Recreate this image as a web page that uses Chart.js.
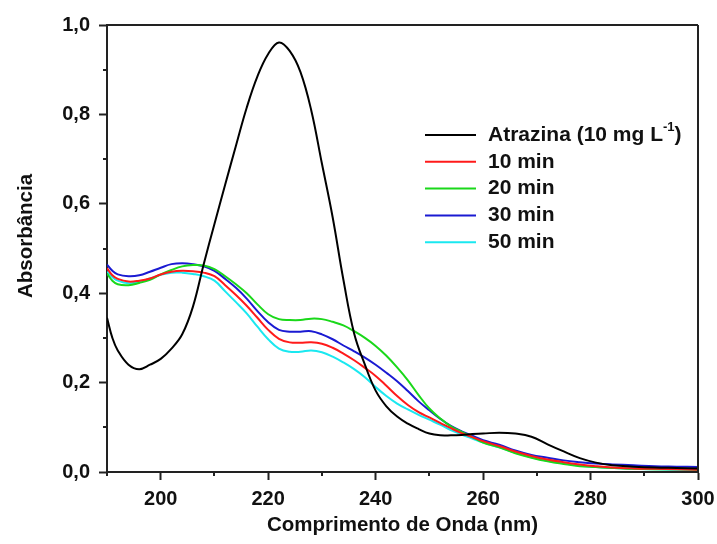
<!DOCTYPE html>
<html lang="pt">
<head>
<meta charset="UTF-8">
<title>Absorbância x Comprimento de Onda</title>
<script src="https://cdn.jsdelivr.net/npm/chart.js"></script>
<style>
  html, body { margin: 0; padding: 0; background: #fff; }
  #wrap { width: 717px; height: 544px; }
</style>
</head>
<body>
<div id="wrap"><canvas id="grafico" width="717" height="544"></canvas></div>
<script>
// comprimentos de onda (nm)
const lambda = [190, 191, 192, 194, 196, 198, 200, 202, 204, 206, 208, 210, 212, 214, 216, 218, 220, 222, 224, 226,
  228, 230, 232, 234, 236, 238, 240, 242, 244, 246, 248, 250, 252, 254, 256, 258, 260, 263, 266, 269,
  272, 275, 278, 281, 284, 288, 292, 296, 300];

const atrazina = [0.345, 0.300, 0.272, 0.240, 0.230, 0.240, 0.253, 0.276, 0.308, 0.370, 0.465, 0.555, 0.643, 0.730, 0.815, 0.885, 0.935, 0.961, 0.942, 0.895,
  0.810, 0.690, 0.570, 0.430, 0.310, 0.240, 0.182, 0.147, 0.124, 0.108, 0.096, 0.086, 0.082, 0.082, 0.083, 0.085, 0.086, 0.088, 0.086, 0.079,
  0.062, 0.046, 0.031, 0.021, 0.015, 0.012, 0.010, 0.009, 0.008];

const min10 = [0.456, 0.440, 0.432, 0.426, 0.428, 0.433, 0.442, 0.448, 0.450, 0.449, 0.446, 0.438, 0.418, 0.396, 0.372, 0.345, 0.318, 0.298, 0.290, 0.289,
  0.290, 0.287, 0.278, 0.265, 0.250, 0.233, 0.215, 0.193, 0.170, 0.150, 0.134, 0.122, 0.110, 0.098, 0.087, 0.078, 0.069, 0.058, 0.046, 0.036,
  0.028, 0.022, 0.017, 0.013, 0.010, 0.008, 0.007, 0.006, 0.005];

const min20 = [0.444, 0.428, 0.420, 0.418, 0.423, 0.430, 0.442, 0.452, 0.460, 0.463, 0.462, 0.454, 0.438, 0.420, 0.400, 0.375, 0.353, 0.342, 0.340, 0.340,
  0.343, 0.342, 0.336, 0.328, 0.315, 0.300, 0.282, 0.260, 0.234, 0.205, 0.172, 0.142, 0.120, 0.102, 0.090, 0.078, 0.066, 0.055, 0.042, 0.032,
  0.024, 0.018, 0.013, 0.011, 0.009, 0.007, 0.006, 0.006, 0.005];

const min30 = [0.464, 0.450, 0.442, 0.438, 0.440, 0.448, 0.457, 0.465, 0.467, 0.465, 0.460, 0.450, 0.432, 0.412, 0.388, 0.360, 0.335, 0.318, 0.314, 0.314,
  0.315, 0.308, 0.297, 0.283, 0.270, 0.256, 0.240, 0.222, 0.203, 0.181, 0.158, 0.138, 0.119, 0.103, 0.091, 0.081, 0.071, 0.061, 0.048, 0.038,
  0.032, 0.026, 0.022, 0.019, 0.017, 0.015, 0.013, 0.012, 0.011];

const min50 = [0.448, 0.436, 0.428, 0.422, 0.425, 0.433, 0.441, 0.446, 0.446, 0.443, 0.438, 0.428, 0.404, 0.380, 0.355, 0.325, 0.297, 0.276, 0.269, 0.269,
  0.272, 0.268, 0.258, 0.245, 0.230, 0.212, 0.190, 0.170, 0.153, 0.140, 0.128, 0.117, 0.106, 0.094, 0.084, 0.075, 0.066, 0.055, 0.043, 0.033,
  0.025, 0.019, 0.014, 0.011, 0.009, 0.007, 0.006, 0.005, 0.005];

const rotulos = ['Atrazina (10 mg L⁻¹)', '10 min', '20 min', '30 min', '50 min'];
const cores = ['#000000', '#ff1a1a', '#1ad81a', '#1a1ad2', '#1ae8f0'];

// marcas dos eixos
const xTicks = [200, 220, 240, 260, 280, 300];
const xMinor = [190, 210, 230, 250, 270, 290];
const yTicks = [0, 0.2, 0.4, 0.6, 0.8, 1.0];
const yMinor = [0.1, 0.3, 0.5, 0.7, 0.9];

const fonte = "'Liberation Sans', Arial, sans-serif";
const series = [atrazina, min10, min20, min30, min50];

const datasets = series.map((s, i) => ({
    label: rotulos[i],
    data: lambda.map((x, j) => ({ x: x, y: s[j] })),
    borderColor: cores[i],
    backgroundColor: cores[i],
    borderWidth: 2,
    pointRadius: 0,
    tension: 0.4,
    fill: false
}));

// moldura, marcas menores, titulo do eixo y e legenda
const extras = {
    id: 'extras',
    afterDraw(chart) {
        const ctx = chart.ctx;
        const a = chart.chartArea;
        const sx = chart.scales.x, sy = chart.scales.y;
        ctx.save();
        ctx.strokeStyle = '#222';
        ctx.lineWidth = 2;
        ctx.beginPath();
        ctx.moveTo(a.left, a.top); ctx.lineTo(a.right, a.top);
        ctx.moveTo(a.right, a.top); ctx.lineTo(a.right, a.bottom);
        xMinor.forEach(v => {
            const px = Math.round(sx.getPixelForValue(v));
            ctx.moveTo(px, a.bottom); ctx.lineTo(px, a.bottom + 4);
        });
        yMinor.forEach(v => {
            const py = Math.round(sy.getPixelForValue(v));
            ctx.moveTo(a.left, py); ctx.lineTo(a.left - 4, py);
        });
        ctx.stroke();

        // titulo do eixo y
        ctx.fillStyle = '#111';
        ctx.font = 'bold 20.5px ' + fonte;
        ctx.textAlign = 'center';
        ctx.textBaseline = 'middle';
        ctx.translate(26, 236);
        ctx.rotate(-Math.PI / 2);
        ctx.fillText('Absorbância', 0, 0);
        ctx.restore();

        // legenda
        ctx.save();
        ctx.textAlign = 'left';
        ctx.textBaseline = 'middle';
        chart.data.datasets.forEach((ds, i) => {
            const y = 135 + i * 26.8;
            ctx.strokeStyle = ds.borderColor;
            ctx.lineWidth = 2;
            ctx.beginPath();
            ctx.moveTo(425, y); ctx.lineTo(476, y);
            ctx.stroke();
            ctx.fillStyle = '#111';
            ctx.font = 'bold 21px ' + fonte;
            const partes = ds.label.split('⁻¹');
            let x = 488;
            ctx.fillText(partes[0], x, y);
            if (partes.length > 1) {
                x += ctx.measureText(partes[0]).width;
                ctx.font = 'bold 13px ' + fonte;
                ctx.fillText('-1', x, y - 8);
                x += ctx.measureText('-1').width;
                ctx.font = 'bold 21px ' + fonte;
                ctx.fillText(partes[1], x, y);
            }
        });
        ctx.restore();
    }
};

new Chart(document.getElementById('grafico'), {
    type: 'line',
    data: { datasets: datasets },
    options: {
        responsive: false,
        animation: false,
        layout: { padding: { left: 0, right: 19, top: 25, bottom: 0 } },
        plugins: {
            legend: { display: false },
            tooltip: { enabled: false }
        },
        scales: {
            x: {
                type: 'linear',
                min: 190,
                max: 300,
                afterBuildTicks: s => { s.ticks = xTicks.map(v => ({ value: v })); },
                afterFit: s => { s.height = 72; s.paddingLeft = 0; s.paddingRight = 0; },
                grid: { drawOnChartArea: false, tickLength: 8, tickWidth: 2, tickColor: '#222' },
                border: { display: true, width: 2, color: '#222' },
                ticks: {
                    color: '#111',
                    padding: 7,
                    maxRotation: 0,
                    font: { family: fonte, size: 20, weight: 'bold' },
                    callback: v => String(v)
                },
                title: {
                    display: true,
                    text: 'Comprimento de Onda (nm)',
                    color: '#111',
                    padding: { top: 0, bottom: 6 },
                    font: { family: fonte, size: 20.5, weight: 'bold' }
                }
            },
            y: {
                min: 0,
                max: 1,
                afterBuildTicks: s => { s.ticks = yTicks.map(v => ({ value: v })); },
                afterFit: s => { s.width = 107; s.paddingTop = 0; s.paddingBottom = 0; },
                grid: { drawOnChartArea: false, tickLength: 8, tickWidth: 2, tickColor: '#222' },
                border: { display: true, width: 2, color: '#222' },
                ticks: {
                    color: '#111',
                    padding: 9,
                    font: { family: fonte, size: 20, weight: 'bold' },
                    callback: v => v.toFixed(1).replace('.', ',')
                }
            }
        }
    },
    plugins: [extras]
});
</script>
</body>
</html>
